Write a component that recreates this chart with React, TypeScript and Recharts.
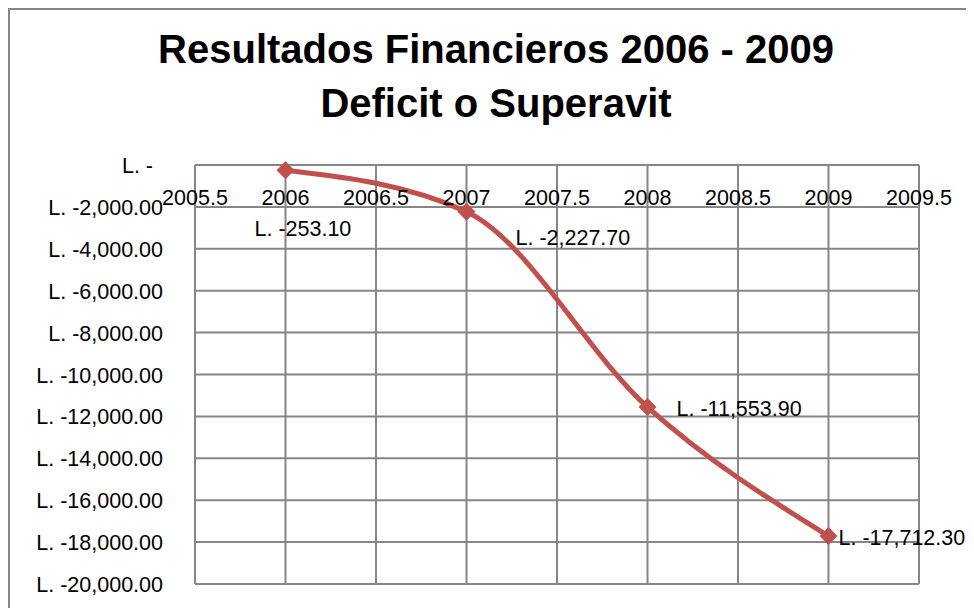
import React from 'react';
import { LineChart, Line, XAxis, YAxis, CartesianGrid, LabelList } from 'recharts';

const years = [2006, 2007, 2008, 2009];
const resultados = [-253.1, -2227.7, -11553.9, -17712.3];
const xTicks = [2005.5, 2006, 2006.5, 2007, 2007.5, 2008, 2008.5, 2009, 2009.5];
const yTicks = [0, -2000, -4000, -6000, -8000, -10000, -12000, -14000, -16000, -18000, -20000];

// where Excel placed each data label, relative to its point
const labelOffsets = [
    { dx: -31, dy: 58 },
    { dx: 49, dy: 25 },
    { dx: 29, dy: 1 },
    { dx: 10, dy: 1 },
];

const data = years.map((year, i) => ({ year, value: resultados[i] }));

const RED = '#C0504D';
const FONT = '"Liberation Sans", Arial, sans-serif';

const lempiras = (v: number) => {
    if (v === 0) return 'L. -';
    const s = Math.abs(v).toLocaleString('en-US', { minimumFractionDigits: 2, maximumFractionDigits: 2 });
    return `L. ${v < 0 ? '-' : ''}${s}`;
};

const Diamond = (props: any) => {
    const { cx, cy } = props;
    if (cx == null || cy == null) return null;
    const r = 9;
    return <polygon points={`${cx},${cy - r} ${cx + r},${cy} ${cx},${cy + r} ${cx - r},${cy}`} fill={RED} />;
};

const YTick = (props: any) => {
    const { x, y, payload } = props;
    const shift = payload.value === 0 ? -10 : 0;
    return (
        <text x={x + shift} y={y} dy={8} textAnchor="end" fontSize={21.5} fontFamily={FONT} fill="#000">
            {lempiras(payload.value)}
        </text>
    );
};

// labels sit just under the zero line, as in Excel's "next to axis"
const XTick = (props: any) => {
    const { x, payload } = props;
    return (
        <text x={x} y={197} textAnchor="middle" fontSize={21.5} fontFamily={FONT} fill="#000">
            {payload.value}
        </text>
    );
};

const PointLabel = (props: any) => {
    const { x, y, index, value } = props;
    const off = labelOffsets[index] || { dx: 10, dy: 0 };
    return (
        <text x={x + off.dx} y={y + off.dy} dy={8} textAnchor="start" fontSize={21.5} fontFamily={FONT} fill="#000">
            {lempiras(value)}
        </text>
    );
};

const App = () => {
    return (
        <div style={{ position: 'relative', width: 966, height: 600, overflow: 'hidden', background: '#fff' }}>
            <div
                style={{
                    position: 'absolute',
                    left: 0,
                    top: 0,
                    width: '100%',
                    textAlign: 'center',
                    fontFamily: FONT,
                    fontWeight: 'bold',
                    fontSize: 40,
                    lineHeight: '54px',
                    paddingTop: 14,
                    paddingLeft: 10,
                    boxSizing: 'border-box',
                    color: '#000',
                }}
            >
                <div>Resultados Financieros 2006 - 2009</div>
                <div>Deficit o Superavit</div>
            </div>
            <LineChart
                width={966}
                height={600}
                data={data}
                margin={{ top: 127, right: 55, bottom: 24, left: 0 }}
                style={{ position: 'absolute', left: 0, top: 0 }}
            >
                <CartesianGrid stroke="#868686" strokeWidth={2} horizontal vertical />
                <XAxis
                    dataKey="year"
                    type="number"
                    domain={[2005.5, 2009.5]}
                    ticks={xTicks}
                    orientation="top"
                    height={30}
                    axisLine={false}
                    tickLine={false}
                    interval={0}
                    tick={<XTick />}
                />
                <YAxis
                    type="number"
                    domain={[-20000, 0]}
                    ticks={yTicks}
                    width={187}
                    axisLine={false}
                    tickLine={false}
                    tickSize={6}
                    tickMargin={26}
                    interval={0}
                    tick={<YTick />}
                />
                <Line
                    type="monotone"
                    dataKey="value"
                    stroke={RED}
                    strokeWidth={5}
                    dot={<Diamond />}
                    activeDot={false}
                    isAnimationActive={false}
                >
                    <LabelList dataKey="value" content={<PointLabel />} />
                </Line>
            </LineChart>
            <div
                style={{
                    position: 'absolute',
                    left: 0,
                    top: 0,
                    width: '100%',
                    height: '100%',
                    borderTop: '2px solid #868686',
                    borderLeft: '2px solid #868686',
                    boxSizing: 'border-box',
                    pointerEvents: 'none',
                }}
            />
        </div>
    );
};

export default App;
